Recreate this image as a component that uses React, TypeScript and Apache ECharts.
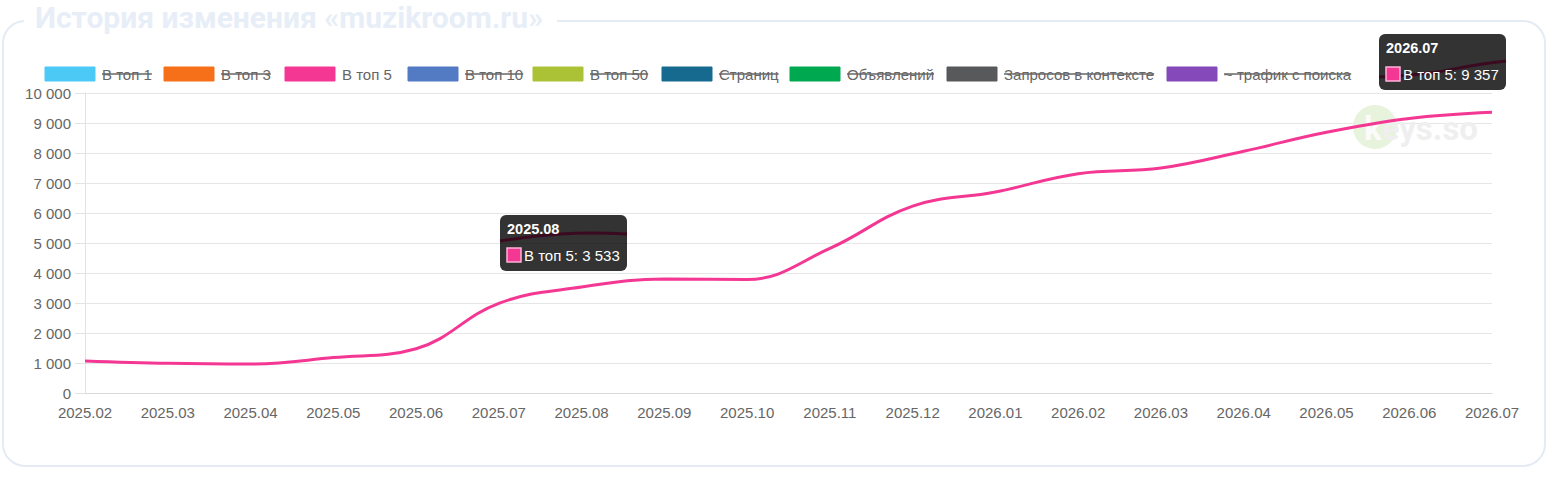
import React, { useEffect, useRef } from "react";
import * as echarts from "echarts";

const months = [
  "2025.02", "2025.03", "2025.04", "2025.05", "2025.06", "2025.07",
  "2025.08", "2025.09", "2025.10", "2025.11", "2025.12", "2026.01",
  "2026.02", "2026.03", "2026.04", "2026.05", "2026.06", "2026.07",
];
const top5 = [1067, 990, 967, 1180, 1475, 2990, 3533, 3800, 3785, 4820, 6230, 6700, 7310, 7500, 8060, 8690, 9150, 9357];

const legendNames = ["В топ 1", "В топ 3", "В топ 5", "В топ 10", "В топ 50", "Страниц", "Объявлений", "Запросов в контексте", "~ трафик с поиска"];
const legendColors = ["#4dc9f6", "#f67019", "#f53794", "#537bc4", "#acc236", "#166a8f", "#00a950", "#58595b", "#8549ba"];
const legendHidden = [true, true, false, true, true, true, true, true, true];

const tooltipMonths = ["2025.08", "2026.07"];

const yTicks = { min: 0, max: 10000, interval: 1000 };

const fmt = (v: number) => String(v).replace(/\B(?=(\d{3})+(?!\d))/g, " ");

const FONT = '"Liberation Sans", Arial, sans-serif';
const WM_FONT = 'bold 33px Roboto, "Liberation Sans", sans-serif';

function measure(text: string, font: string) {
  const c = document.createElement("canvas").getContext("2d");
  if (!c) return text.length * 7;
  c.font = font;
  return c.measureText(text).width;
}

const T = (extra: any) => ({ align: "left", verticalAlign: "middle", textAlign: "left", textVerticalAlign: "middle", ...extra });

export default function App() {
  const ref = useRef<HTMLDivElement>(null);
  useEffect(() => {
    if (!ref.current) return;
    const chart = echarts.init(ref.current, undefined, { renderer: "svg" });

    const graphic: any[] = [];
    // card
    graphic.push({
      type: "rect", zlevel: 0, z: -10, silent: true,
      shape: { x: 3, y: 21, width: 1542, height: 445, r: 22 },
      style: { fill: "#fff", stroke: "#e4ebf4", lineWidth: 2 },
    });
    graphic.push({
      type: "rect", zlevel: 0, z: -9, silent: true,
      shape: { x: 24, y: 8, width: 533, height: 24 },
      style: { fill: "#fff" },
    });
    graphic.push({
      type: "text", zlevel: 0, z: -8, x: 35, y: 17,
      style: T({
        text: "История изменения «muzikroom.ru»",
        fill: "#e7eef7", font: 'bold 30px Roboto, "Liberation Sans", sans-serif',
      }),
    });

    // legend
    const boxX = [45, 164, 285, 408, 533, 662, 790, 947, 1167];
    const legFont = "15px " + FONT;
    legendNames.forEach((name, i) => {
      const bx = boxX[i];
      graphic.push({
        type: "rect", zlevel: 0, z: 5, shape: { x: bx, y: 67, width: 50, height: 14 },
        style: { fill: legendColors[i], stroke: legendColors[i], lineWidth: 1 },
      });
      const tx = bx + 57;
      graphic.push({
        type: "text", zlevel: 0, z: 5, x: tx, y: 74.5,
        style: T({ text: name, fill: "#666", font: legFont }),
      });
      if (legendHidden[i]) {
        const w = measure(name, legFont);
        graphic.push({
          type: "line", zlevel: 0, z: 5, shape: { x1: tx, y1: 74, x2: tx + w, y2: 74 },
          style: { stroke: "#666", lineWidth: 1.5 },
        });
      }
    });

    // watermark (under the line)
    const kW = measure("k", WM_FONT);
    graphic.push({
      type: "group", zlevel: 0, z: 1, silent: true,
      children: [
        { type: "circle", zlevel: 0, z: 1, shape: { cx: 1375, cy: 127, r: 22 }, style: { fill: "#e8f3dd" } },
        { type: "text", zlevel: 0, z: 1, x: 1364, y: 128, style: T({ text: "k", fill: "#fbfbfb", font: WM_FONT }) },
        { type: "text", zlevel: 0, z: 1, x: 1364 + kW, y: 128, style: T({ text: "eys.so", fill: "#efefef", font: WM_FONT }) },
      ],
    });

    // tooltips
    const tipPos = [
      { x: 500, y: 215, ghost: [[500, 241], [530, 237], [560, 234], [593, 233], [627, 234]] },
      { x: 1379, y: 34, ghost: [[1379, 77], [1410, 75], [1437, 72], [1470, 66], [1506, 61]] },
    ];
    tooltipMonths.forEach((m, i) => {
      const idx = months.indexOf(m);
      const p = tipPos[i];
      graphic.push({
        type: "group", zlevel: 2, z: 100, x: 0, y: 0,
        children: [
          {
            type: "rect", zlevel: 2, z: 100, shape: { x: p.x, y: p.y, width: 127, height: 56, r: 6 },
            style: { fill: "rgba(0,0,0,0.8)" },
          },
          {
            type: "polyline", zlevel: 2, z: 101, shape: { points: p.ghost, smooth: 0.4 },
            style: { stroke: "#3a0b20", lineWidth: 3, fill: null },
          },
          {
            type: "text", zlevel: 2, z: 102, x: p.x + 7, y: p.y + 14,
            style: T({ text: m, fill: "#fff", font: "bold 14.5px " + FONT }),
          },
          {
            type: "rect", zlevel: 2, z: 102, shape: { x: p.x + 7, y: p.y + 33, width: 14, height: 14 },
            style: { fill: "#f53794", stroke: "#ffb3d6", lineWidth: 1.5 },
          },
          {
            type: "text", zlevel: 2, z: 102, x: p.x + 24, y: p.y + 40.5,
            style: T({ text: "В топ 5: " + fmt(top5[idx]), fill: "#fff", font: "15px " + FONT }),
          },
        ],
      });
    });

    chart.setOption({
      animation: false,
      grid: { left: 85, right: 58, top: 93, bottom: 87 },
      xAxis: {
        type: "category",
        data: months,
        boundaryGap: false,
        axisLine: { show: true, lineStyle: { color: "#d9d9d9", width: 1 } },
        axisTick: { show: false },
        splitLine: { show: false },
        axisLabel: { color: "#666", fontSize: 15, fontFamily: FONT, margin: 12, interval: 0 },
      },
      yAxis: {
        type: "value",
        min: yTicks.min,
        max: yTicks.max,
        interval: yTicks.interval,
        axisLine: { show: true, lineStyle: { color: "#e2e2e2", width: 1 } },
        axisTick: { show: true, length: 10, lineStyle: { color: "#e2e2e2" } },
        splitLine: { show: true, lineStyle: { color: "#e6e6e6", width: 1 } },
        axisLabel: { color: "#666", fontSize: 15, fontFamily: FONT, margin: 14, formatter: (v: number) => fmt(v) },
      },
      series: [
        {
          name: "В топ 5",
          type: "line",
          data: top5,
          smooth: 0.4,
          showSymbol: false,
          symbol: "none",
          zlevel: 1,
          z: 3,
          lineStyle: { color: "#f53794", width: 3 },
          itemStyle: { color: "#f53794" },
        },
      ],
      graphic,
    });

    return () => chart.dispose();
  }, []);

  return (
    <div
      ref={ref}
      style={{ position: "absolute", left: 0, top: 0, width: 1550, height: 480, background: "#fff" }}
    />
  );
}
